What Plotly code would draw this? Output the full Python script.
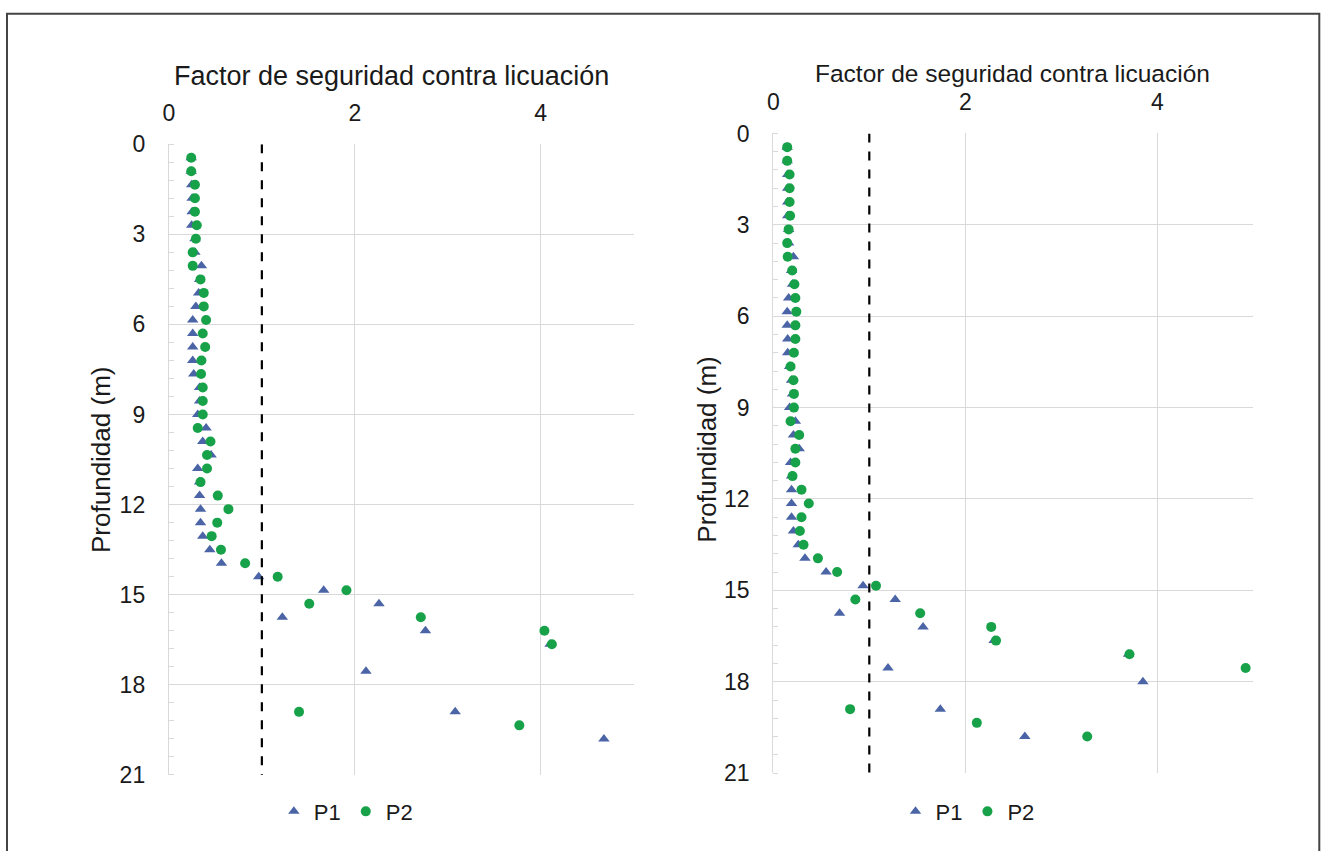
import plotly.graph_objects as go

# ---------------- data ----------------
depth = [0.45, 0.9, 1.35, 1.8, 2.25, 2.7, 3.15, 3.6, 4.05, 4.5, 4.95, 5.4, 5.85, 6.3, 6.75,
         7.2, 7.65, 8.1, 8.55, 9.0, 9.45, 9.9, 10.35, 10.8, 11.25, 11.7, 12.15, 12.6, 13.05,
         13.5, 13.95, 14.4, 14.85, 15.3, 15.75, 16.2, 16.65, 17.1, 17.55, 18.0, 18.45, 18.9,
         19.35, 19.8]

left_p1 = [0.24, 0.24, 0.245, 0.25, 0.25, 0.245, 0.28, 0.28, 0.35, 0.33, 0.32, 0.29, 0.256,
           0.256, 0.256, 0.256, 0.267, 0.33, 0.33, 0.31, 0.40, 0.364, 0.454, 0.31, 0.33, 0.33,
           0.34, 0.34, 0.364, 0.44, 0.565, 0.966, 1.665, 2.26, 1.22, 2.76, 4.10, None, 2.12,
           None, None, 3.08, None, 4.68]
left_p2 = [0.24, 0.24, 0.28, 0.28, 0.28, 0.30, 0.29, 0.256, 0.256, 0.34, 0.375, 0.375, 0.40,
           0.364, 0.39, 0.35, 0.346, 0.364, 0.364, 0.364, 0.31, 0.447, 0.41, 0.41, 0.34, 0.526,
           0.64, 0.52, 0.46, 0.56, 0.82, 1.17, 1.91, 1.51, 2.71, 4.04, 4.12, None, None, None,
           None, 1.40, 3.77, None]

right_p1 = [0.145, 0.145, 0.15, 0.15, 0.15, 0.15, 0.16, 0.16, 0.21, 0.19, 0.20, 0.16, 0.145,
            0.145, 0.15, 0.15, 0.17, 0.19, 0.20, 0.17, 0.23, 0.21, 0.27, 0.18, 0.19, 0.19, 0.19,
            0.19, 0.21, 0.26, 0.33, 0.55, 0.935, 1.27, 0.69, 1.56, 2.30, 3.70, 1.195, 3.85, None,
            1.74, None, 2.62]
right_p2 = [0.145, 0.145, 0.17, 0.17, 0.17, 0.175, 0.16, 0.145, 0.15, 0.197, 0.22, 0.23, 0.24,
            0.23, 0.23, 0.215, 0.18, 0.21, 0.215, 0.215, 0.18, 0.27, 0.23, 0.23, 0.20, 0.294,
            0.37, 0.294, 0.277, 0.315, 0.465, 0.665, 1.07, 0.855, 1.53, 2.27, 2.32, 3.71, 4.92,
            None, None, 0.80, 2.12, 3.27]

FS_LIMIT = 1.0
x_ticks = [0, 2, 4]
y_ticks = [0, 3, 6, 9, 12, 15, 18, 21]
x_title = "Factor de seguridad contra licuación"
y_title = "Profundidad (m)"

# ---------------- style ----------------
W, H = 1322, 851
FONT = "Liberation Sans, Arial, sans-serif"
BLUE = "#4a64a6"
GREEN = "#17a24a"
GRID = "#d9d9d9"
TXT = "#1a1a1a"


# target screen pixel -> paper fraction (compensating the page offset/scale seen on screen)
def px_x(v):
    return ((v - 5.0) / 0.996) / W


def px_y(v):
    return 1 - ((v - 12.4) / 0.9707) / H


fig = go.Figure()

panels = [
    dict(p1=left_p1, p2=left_p2, xa="x", ya="y", leg="legend",
         dom_x=(168, 633), dom_y=(143.8, 775.3)),
    dict(p1=right_p1, p2=right_p2, xa="x2", ya="y2", leg="legend2",
         dom_x=(772.7, 1253), dom_y=(133, 773.5)),
]

for p in panels:
    fig.add_trace(go.Scatter(x=p["p1"], y=depth, mode="markers", name="P1",
                             xaxis=p["xa"], yaxis=p["ya"], legend=p["leg"],
                             marker=dict(symbol="triangle-up", size=10, color=BLUE)))
    fig.add_trace(go.Scatter(x=p["p2"], y=depth, mode="markers", name="P2",
                             xaxis=p["xa"], yaxis=p["ya"], legend=p["leg"],
                             marker=dict(symbol="circle", size=10, color=GREEN)))
    fig.add_shape(type="line", xref=p["xa"], yref=p["ya"], x0=FS_LIMIT, x1=FS_LIMIT,
                  y0=y_ticks[0], y1=y_ticks[-1],
                  line=dict(color="black", width=2.2, dash="dash"))

for i, p in enumerate(panels):
    sfx = "" if i == 0 else "2"
    fig.layout["xaxis" + sfx] = dict(
        domain=[px_x(p["dom_x"][0]), px_x(p["dom_x"][1])],
        anchor="y" + sfx, side="top", range=[0, 5],
        tickvals=x_ticks, showgrid=True, gridcolor=GRID, gridwidth=1.2,
        showline=False, zeroline=False, ticks="",
        ticklabelstandoff=18,
        tickfont=dict(family=FONT, size=23, color=TXT),
    )
    fig.layout["yaxis" + sfx] = dict(
        domain=[px_y(p["dom_y"][1]), px_y(p["dom_y"][0])],
        anchor="x" + sfx, range=[21, 0], tickvals=y_ticks,
        showgrid=True, gridcolor=GRID, gridwidth=1.2,
        showline=True, linecolor=GRID, linewidth=1.2, zeroline=False, ticks="",
        minor=dict(dtick=0.6, ticks="inside", ticklen=5, tickcolor=GRID, showgrid=False),
        ticklabelstandoff=18,
        tickfont=dict(family=FONT, size=23, color=TXT),
    )

annotations = [
    dict(text=x_title, x=px_x(391), y=px_y(75), xref="paper", yref="paper",
         xanchor="center", yanchor="middle",
         showarrow=False, font=dict(family=FONT, size=27, color=TXT)),
    dict(text=x_title, x=px_x(1012), y=px_y(73), xref="paper", yref="paper",
         xanchor="center", yanchor="middle",
         showarrow=False, font=dict(family=FONT, size=24.5, color=TXT)),
    dict(text=y_title, x=px_x(100), y=px_y(460), xref="paper", yref="paper",
         xanchor="center", yanchor="middle",
         showarrow=False, textangle=-90, font=dict(family=FONT, size=26, color=TXT)),
    dict(text=y_title, x=px_x(706), y=px_y(450), xref="paper", yref="paper",
         xanchor="center", yanchor="middle",
         showarrow=False, textangle=-90, font=dict(family=FONT, size=26, color=TXT)),
]

legend_style = dict(orientation="h", xanchor="left", yanchor="middle",
                    bgcolor="rgba(0,0,0,0)", itemwidth=30,
                    font=dict(family=FONT, size=22, color=TXT), tracegroupgap=0)

fig.update_layout(
    width=W, height=H,
    margin=dict(l=0, r=0, t=0, b=0),
    paper_bgcolor="white", plot_bgcolor="white",
    showlegend=True,
    legend=dict(x=px_x(273), y=px_y(812), **legend_style),
    legend2=dict(x=px_x(895), y=px_y(812), **legend_style),
    annotations=annotations,
)

# outer frame
fig.add_shape(type="rect", xref="paper", yref="paper",
              x0=px_x(6), x1=px_x(1319), y0=-0.02, y1=0.999,
              line=dict(color="#444", width=2), fillcolor="rgba(0,0,0,0)", layer="below")

fig.write_html("out.html")
